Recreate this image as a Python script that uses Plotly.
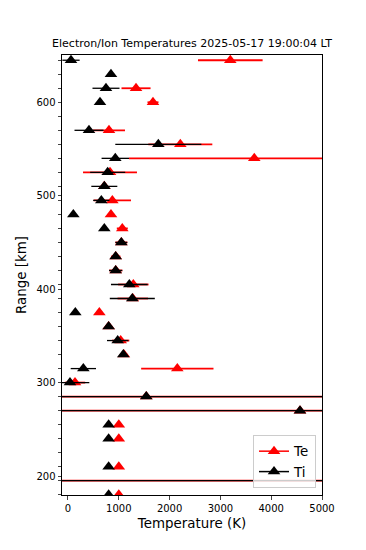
import numpy as np
import plotly.graph_objects as go

nan = float("nan")

# Range levels (km)
ranges = [645, 630, 615, 600, 585, 570, 555, 540, 525, 510, 495, 480, 465, 450,
          435, 420, 405, 390, 375, 360, 345, 330, 315, 300, 285, 270, 255, 240,
          225, 210, 195, 180]

te = [3195, nan, 1339, 1673, nan, 807, 2211, 3667, 827, 715, 873, 846, 1069, 1050,
      940, 940, 1286, 1275, 617, 800, 1037, 1100, 2152, 138, 1541, 4567, 1000, 1000,
      nan, 1000, 7000, 1000]
te_err = [636, 0, 286, 108, 0, 315, 630, 2467, 531, 0, 367, 0, 108, 118,
          92, 130, 300, 300, 0, 60, 170, 70, 712, 200, 9000, 9000, 0, 0,
          0, 0, 12000, 0]

ti = [59, 846, 748, 630, nan, 413, 1778, 931, 781, 715, 656, 105, 715, 1050,
      938, 938, 1207, 1266, 144, 800, 978, 1089, 302, 39, 1541, 4567, 800, 800,
      nan, 800, 7000, 800]
ti_err = [170, 0, 266, 0, 0, 285, 847, 270, 345, 256, 160, 0, 0, 118,
          0, 131, 361, 443, 0, 0, 210, 0, 249, 381, 9000, 9000, 0, 0,
          0, 0, 12000, 0]

x_ticks = [0, 1000, 2000, 3000, 4000, 5000]
y_ticks = [200, 300, 400, 500, 600]

fig = go.Figure()
fig.add_trace(go.Scatter(
    x=te, y=ranges, mode="markers", name="Te", showlegend=False,
    marker=dict(symbol="triangle-up", size=11, color="red"),
    error_x=dict(type="data", array=te_err, color="red", thickness=1.8, width=0, visible=True),
))
fig.add_trace(go.Scatter(
    x=ti, y=ranges, mode="markers", name="Ti", showlegend=False,
    marker=dict(symbol="triangle-up", size=11, color="black"),
    error_x=dict(type="data", array=ti_err, color="black", thickness=1.3, width=0, visible=True),
))
# legend entries (marker with error-bar line)
for name, col in (("Te", "red"), ("Ti", "black")):
    fig.add_trace(go.Scatter(
        x=[None], y=[None], mode="lines+markers", name=name,
        marker=dict(symbol="triangle-up", size=11, color=col),
        line=dict(color=col, width=1.5),
    ))

font = "DejaVu Sans"
W, H = 358, 542
fig.update_layout(
    width=W, height=H,
    margin=dict(l=54, r=44, t=47, b=55),
    paper_bgcolor="white", plot_bgcolor="white",
    font=dict(family=font, size=10, color="black"),
    title=dict(text="Electron/Ion Temperatures 2025-05-17 19:00:04 LT",
               x=0.5, xref="paper", y=1 - 35 / H, yref="container",
               xanchor="center", yanchor="middle",
               font=dict(family=font, size=11, color="black")),
    xaxis=dict(range=[-118, 5000], tickvals=x_ticks, ticks="outside", ticklen=3.5,
               showline=True, linecolor="black", linewidth=1, mirror=True,
               showgrid=False, zeroline=False,
               title=dict(text="Temperature (K)", font=dict(size=13.4), standoff=6),
               tickfont=dict(size=10)),
    yaxis=dict(range=[179.7, 650.6], tickvals=y_ticks, ticks="outside", ticklen=3.5,
               showline=True, linecolor="black", linewidth=1, mirror=True,
               showgrid=False, zeroline=False,
               minor=dict(tickvals=ranges, ticks="outside", ticklen=3.5, showgrid=False),
               title=dict(text="Range [km]", font=dict(size=13.4), standoff=6),
               tickfont=dict(size=10)),
    legend=dict(x=0.977, y=0.016, xanchor="right", yanchor="bottom",
                bgcolor="rgba(255,255,255,0.8)", bordercolor="#cccccc", borderwidth=1,
                font=dict(size=13.4), itemwidth=30),
    showlegend=True,
)

fig.write_html("out.html")
